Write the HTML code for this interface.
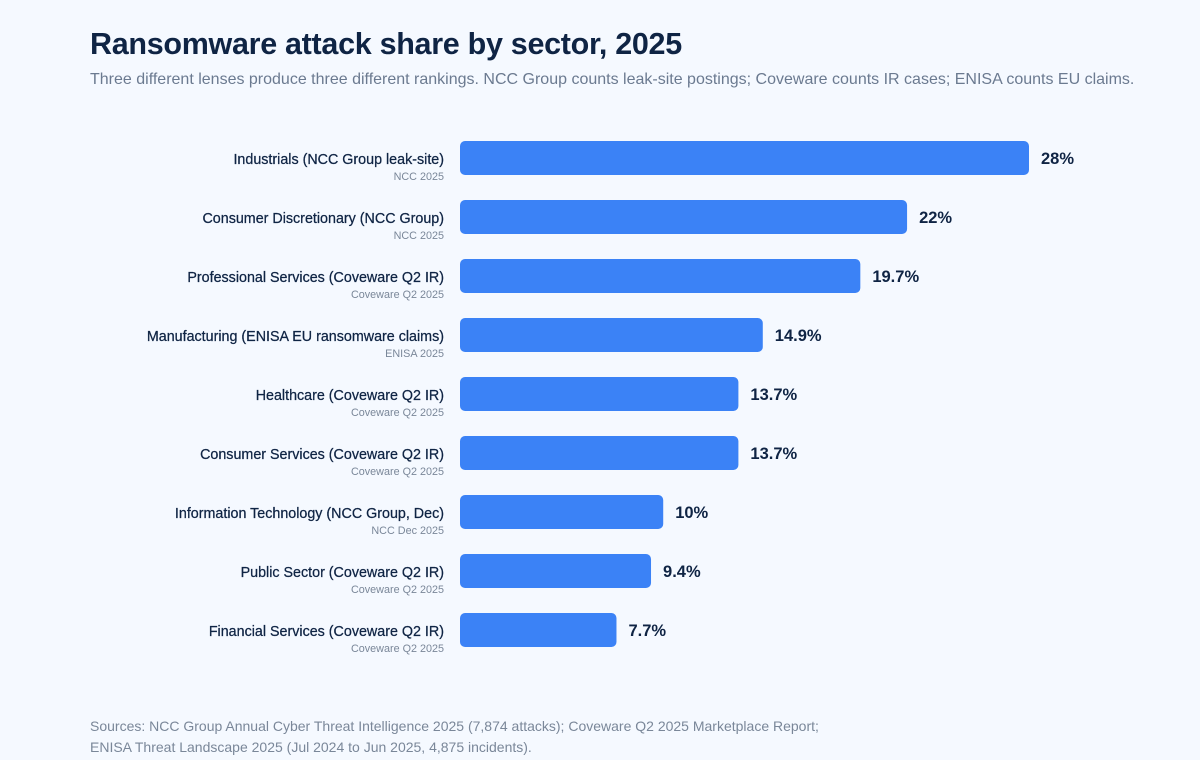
<!DOCTYPE html>
<html><head><meta charset="utf-8"><style>
html,body{margin:0;padding:0;background:#f5f9ff;}
body{width:1200px;height:760px;position:relative;overflow:hidden;font-family:"Liberation Sans",Arial,sans-serif;}
#title{position:absolute;left:90px;top:27px;font-size:30.5px;font-weight:bold;color:#0f2444;margin:0;letter-spacing:-0.3px}
#sub{position:absolute;left:90px;top:71px;font-size:16px;color:#6b7a90;margin:0}
#src{position:absolute;left:90px;top:716px;font-size:14px;color:#7a8799;line-height:21px}
svg{position:absolute;left:0;top:0}
</style></head><body>
<h1 id="title">Ransomware attack share by sector, 2025</h1>
<p id="sub">Three different lenses produce three different rankings. NCC Group counts leak-site postings; Coveware counts IR cases; ENISA counts EU claims.</p>
<svg id="chart" width="1200" height="760"></svg>
<div id="src">Sources: NCC Group Annual Cyber Threat Intelligence 2025 (7,874 attacks); Coveware Q2 2025 Marketplace Report;<br>ENISA Threat Landscape 2025 (Jul 2024 to Jun 2025, 4,875 incidents).</div>
<script>
const categories=["Industrials (NCC Group leak-site)","Consumer Discretionary (NCC Group)","Professional Services (Coveware Q2 IR)","Manufacturing (ENISA EU ransomware claims)","Healthcare (Coveware Q2 IR)","Consumer Services (Coveware Q2 IR)","Information Technology (NCC Group, Dec)","Public Sector (Coveware Q2 IR)","Financial Services (Coveware Q2 IR)"];
const sources=["NCC 2025","NCC 2025","Coveware Q2 2025","ENISA 2025","Coveware Q2 2025","Coveware Q2 2025","NCC Dec 2025","Coveware Q2 2025","Coveware Q2 2025"];
const values=[28,22,19.7,14.9,13.7,13.7,10,9.4,7.7];
const valueLabels=["28%","22%","19.7%","14.9%","13.7%","13.7%","10%","9.4%","7.7%"];
const NS="http://www.w3.org/2000/svg";
const svg=document.getElementById('chart');
const x0=460, xMax=28, wMax=569;
const xs=v=>v/xMax*wMax;
const y=i=>141+i*59;
const bh=34;
function mk(t,a){const e=document.createElementNS(NS,t);for(const k in a)e.setAttribute(k,a[k]);svg.appendChild(e);return e;}
values.forEach((v,i)=>{
  const r=mk('rect',{x:x0,y:y(i),width:xs(v),height:bh,rx:5,fill:'#3b82f6'});
  
  
  const t=mk('text',{x:x0+xs(v)+12,y:y(i)+23,'font-size':16.5,'font-weight':'bold',fill:'#0f2444'});
  t.textContent=valueLabels[i];
  
  
  const c=mk('text',{x:444,y:y(i)+23,'font-size':14.3,fill:'#0f2444','text-anchor':'end','stroke':'#0f2444','stroke-width':0.25});
  c.textContent=categories[i];
  
  
  const s=mk('text',{x:444,y:y(i)+39,'font-size':10.8,fill:'#7a8799','text-anchor':'end'});
  s.textContent=sources[i];
  
  
});
</script>
</body></html>
